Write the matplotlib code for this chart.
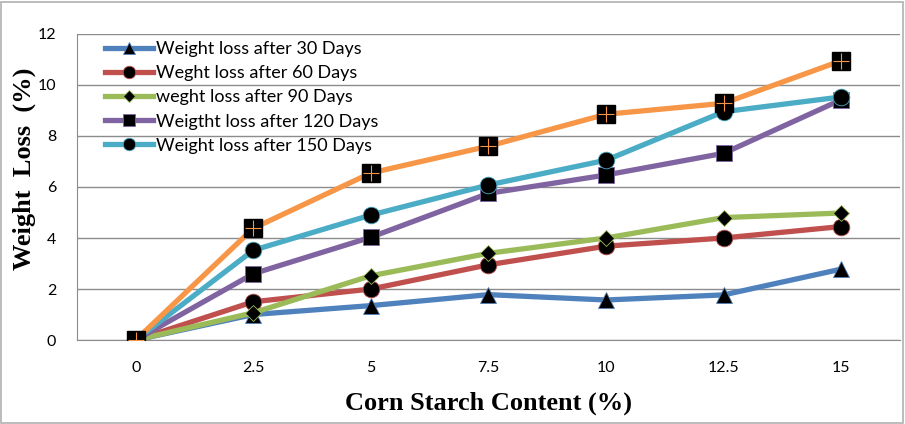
import matplotlib
matplotlib.use("Agg")
import matplotlib.pyplot as plt
from matplotlib.patches import Rectangle

# ── data ─────────────────────────────────────────────────────────────────────
starch = ["0", "2.5", "5", "7.5", "10", "12.5", "15"]
loss_30 = [0, 1.0, 1.35, 1.78, 1.57, 1.77, 2.78]
loss_60 = [0, 1.5, 2.0, 2.95, 3.68, 4.0, 4.45]
loss_90 = [0, 1.07, 2.52, 3.4, 4.0, 4.8, 4.98]
loss_120 = [0, 2.6, 4.03, 5.75, 6.47, 7.32, 9.42]
loss_150 = [0, 3.52, 4.9, 6.08, 7.05, 8.95, 9.53]
loss_extra = [0, 4.38, 6.55, 7.6, 8.85, 9.28, 10.95]   # orange, not in legend

labels = [
    "Weight loss after 30 Days",
    "Weght loss after 60 Days",
    "weght loss after 90 Days",
    "Weigtht loss after 120 Days",
    "Weight loss after 150 Days",
]

FONT = "Lato"
SERIF = "Liberation Serif"

fig = plt.figure(figsize=(9.05, 4.24), dpi=100)
ax = fig.add_axes([0.085, 0.198, 0.9095, 0.722])

x = list(range(len(starch)))
styles = [
    (loss_30, "#4F81BD", "^", 12),
    (loss_60, "#C0504D", "o", 12),
    (loss_90, "#9BBB59", "D", 8),
    (loss_120, "#8064A2", "s", 11),
    (loss_150, "#4BACC6", "o", 12),
]
for (vals, col, mk, ms), lbl in zip(styles, labels):
    ax.plot(x, vals, color=col, lw=3.8, marker=mk, ms=ms,
            mfc="black", mec=col, mew=0.6, label=lbl, zorder=3)

ax.plot(x, loss_extra, color="#F79646", lw=3.8, marker="s", ms=12.5,
        mfc="black", mec="black", zorder=4)
ax.plot(x, loss_extra, ls="none", marker="+", ms=12, mew=0.8,
        color="#F79646", zorder=5)

ax.set_xlim(-0.5, 6.5)
ax.set_ylim(0, 12)
ax.set_yticks(range(0, 13, 2))
ax.set_xticks(x)
ax.set_xticklabels(starch)
ax.tick_params(length=0, labelsize=11.5, pad=15)
ax.tick_params(axis="y", pad=15)
for t in ax.get_xticklabels() + ax.get_yticklabels():
    t.set_fontfamily(FONT)
ax.grid(axis="y", color="#8c8c8c", lw=1.0)
ax.set_axisbelow(True)
for s in ("top", "right"):
    ax.spines[s].set_visible(False)
for s in ("left", "bottom"):
    ax.spines[s].set_color("#8c8c8c")

ax.set_xlabel("Corn Starch Content (%)", fontfamily=SERIF, fontweight="bold",
              fontsize=19, labelpad=12)
ax.set_ylabel("Weight  Loss  (%)", fontfamily=SERIF, fontweight="bold",
              fontsize=19)
ax.yaxis.set_label_coords(-0.05, 0.56)

ax.legend(loc="upper left", bbox_to_anchor=(0.025, 1.0), frameon=False,
          prop={"family": FONT, "size": 13}, handlelength=2.7,
          handletextpad=0.15, labelspacing=0.45, borderaxespad=0,
          markerscale=0.75)

fig.patches.append(Rectangle((0.001, 0.003), 0.997, 0.993, transform=fig.transFigure,
                             fill=False, edgecolor="#b0b0b0", lw=1.2))

fig.savefig("out.png", dpi=100)
